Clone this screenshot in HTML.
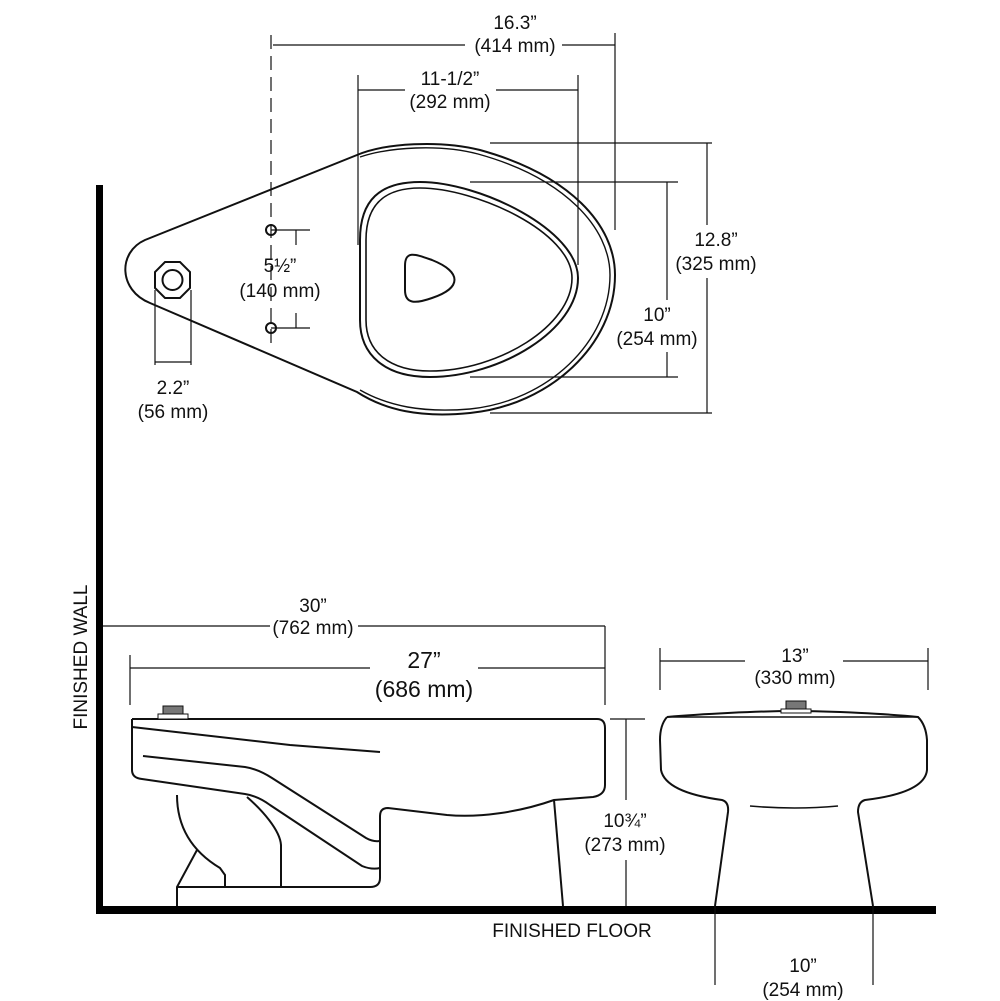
<!DOCTYPE html>
<html><head><meta charset="utf-8"><style>
html,body{margin:0;padding:0;background:#fff}
svg{display:block}
text{font-family:"Liberation Sans Narrow","Liberation Sans",sans-serif;font-size:19px;fill:#111;text-anchor:middle}
</style></head><body>
<svg width="1000" height="1001" viewBox="0 0 1000 1001" xmlns="http://www.w3.org/2000/svg">
<g fill="none" stroke="#111" stroke-width="1.2">
<line x1="271" y1="35" x2="271" y2="345" stroke-dasharray="14,7"/>
<line x1="273" y1="45" x2="465" y2="45"/><line x1="562" y1="45" x2="615" y2="45"/>
<line x1="615" y1="33" x2="615" y2="230"/>
<line x1="358" y1="90" x2="405" y2="90"/><line x1="496" y1="90" x2="578" y2="90"/>
<line x1="358" y1="75" x2="358" y2="245"/><line x1="578" y1="75" x2="578" y2="265"/>
<line x1="490" y1="143" x2="712" y2="143"/><line x1="490" y1="413" x2="712" y2="413"/>
<line x1="707" y1="143" x2="707" y2="225"/><line x1="707" y1="278" x2="707" y2="413"/>
<line x1="470" y1="182" x2="678" y2="182"/><line x1="470" y1="377" x2="678" y2="377"/>
<line x1="667" y1="182" x2="667" y2="300"/><line x1="667" y1="352" x2="667" y2="377"/>
<line x1="155" y1="290" x2="155" y2="365"/><line x1="191" y1="290" x2="191" y2="365"/>
<line x1="155" y1="362" x2="191" y2="362"/>
<line x1="271" y1="230" x2="310" y2="230"/><line x1="296" y1="230" x2="296" y2="245"/>
<line x1="271" y1="328" x2="310" y2="328"/><line x1="296" y1="313" x2="296" y2="328"/>
</g>
<g fill="none" stroke="#111" stroke-width="2">
<path d="M357,155 C385,143 440,140 480,150 C570,175 615,225 615,275 C615,345 550,405 470,413 C420,418 385,410 357,392 L150,303 C118,290 118,252 145,240 Z"/>
<path d="M360,157 C390,147 440,144 478,154 C565,178 610,228 610,275 C610,342 548,401 470,409 C422,413 388,406 360,390" stroke-width="1.4"/>
<path d="M360,240 C360,200 380,182 420,182 C480,182 578,230 578,278 C578,330 500,377 430,377 C385,377 360,355 360,320 Z"/>
<path d="M366,240 C366,205 384,188 420,188 C476,188 572,232 572,278 C572,326 498,371 430,371 C390,371 366,352 366,320 Z" stroke-width="1.6"/>
<path d="M405,266 C405,250 415,254 432,260 C462,272 462,288 432,298 C415,304 405,304 405,290 Z"/>
<polygon points="165,262 180,262 190,272 190,288 180,298 165,298 155,288 155,272"/>
<circle cx="172.5" cy="280" r="10"/>
<circle cx="271" cy="230" r="5"/><circle cx="271" cy="328" r="5"/>
</g>
<rect x="96" y="185" width="7" height="728" fill="#000"/>
<rect x="96" y="906" width="840" height="8" fill="#000"/>
<g fill="none" stroke="#111" stroke-width="1.2">
<line x1="103" y1="626" x2="270" y2="626"/><line x1="358" y1="626" x2="605" y2="626"/>
<line x1="605" y1="626" x2="605" y2="705"/>
<line x1="130" y1="668" x2="370" y2="668"/><line x1="478" y1="668" x2="605" y2="668"/>
<line x1="130" y1="655" x2="130" y2="705"/>
<line x1="610" y1="719" x2="645" y2="719"/>
<line x1="626" y1="719" x2="626" y2="800"/><line x1="626" y1="860" x2="626" y2="906"/>
<line x1="660" y1="661" x2="745" y2="661"/><line x1="843" y1="661" x2="928" y2="661"/>
<line x1="660" y1="648" x2="660" y2="690"/><line x1="928" y1="648" x2="928" y2="690"/>
<line x1="715" y1="906" x2="715" y2="985"/><line x1="873" y1="906" x2="873" y2="985"/>
</g>
<g fill="none" stroke="#111" stroke-width="2">
<path d="M132,719 L597,719 Q605,719 605,728 L605,785 Q605,795 593,797 L554,800 C520,812 480,818 447,815 L388,808 Q380,808 380,816 L380,878 Q380,887 370,887 L177,887"/>
<path d="M132,719 L132,770 Q132,778 142,779 L245,794 Q258,796 270,805 L362,866 Q372,870 380,868"/>
<path d="M143,756 L245,767 Q258,769 272,778 L366,838 Q373,842 380,841"/>
<path d="M132,727 L290,745 L380,752"/>
<path d="M177,795 C177,825 190,850 220,868 L225,875 L225,887"/>
<path d="M247,797 C262,810 280,830 281,845 L281,887"/>
<path d="M197,850 L177,887 L177,906"/>
<line x1="554" y1="800" x2="563" y2="906"/>
<path d="M667,717 C700,714 760,711 793,711 C830,711 890,714 918,717 Q926,725 927,740 L927,770 C925,790 890,797 865,800 Q858,802 858,812 L873,906"/>
<path d="M667,717 Q660,725 660,740 L661,770 C665,790 700,797 722,800 Q729,802 728,812 L715,906"/>
<path d="M750,806 Q795,810 838,806" stroke-width="1.6"/>
</g>
<line x1="667" y1="717" x2="918" y2="717" stroke="#111" stroke-width="1.4"/>
<rect x="163" y="706" width="20" height="8" fill="#777" stroke="#111"/>
<rect x="158" y="714" width="30" height="5" fill="#fff" stroke="#111"/>
<rect x="786" y="701" width="20" height="8" fill="#777" stroke="#111"/>
<rect x="781" y="709" width="30" height="4" fill="#fff" stroke="#111"/>
<text x="515" y="29">16.3”</text><text x="515" y="52">(414 mm)</text>
<text x="450" y="85">11-1/2”</text><text x="450" y="108">(292 mm)</text>
<text x="716" y="246">12.8”</text><text x="716" y="270">(325 mm)</text>
<text x="657" y="321">10”</text><text x="657" y="345">(254 mm)</text>
<text x="280" y="272">5½”</text><text x="280" y="297">(140 mm)</text>
<text x="173" y="394">2.2”</text><text x="173" y="418">(56 mm)</text>
<text x="313" y="612">30”</text><text x="313" y="634">(762 mm)</text>
<text x="424" y="668" style="font-size:23px">27”</text><text x="424" y="697" style="font-size:23px">(686 mm)</text>
<text x="625" y="827">10¾”</text><text x="625" y="851">(273 mm)</text>
<text x="795" y="662">13”</text><text x="795" y="684">(330 mm)</text>
<text x="803" y="972">10”</text><text x="803" y="996">(254 mm)</text>
<text x="572" y="937">FINISHED FLOOR</text>
<text x="0" y="0" transform="translate(87,657) rotate(-90)">FINISHED WALL</text>
</svg>
</body></html>
